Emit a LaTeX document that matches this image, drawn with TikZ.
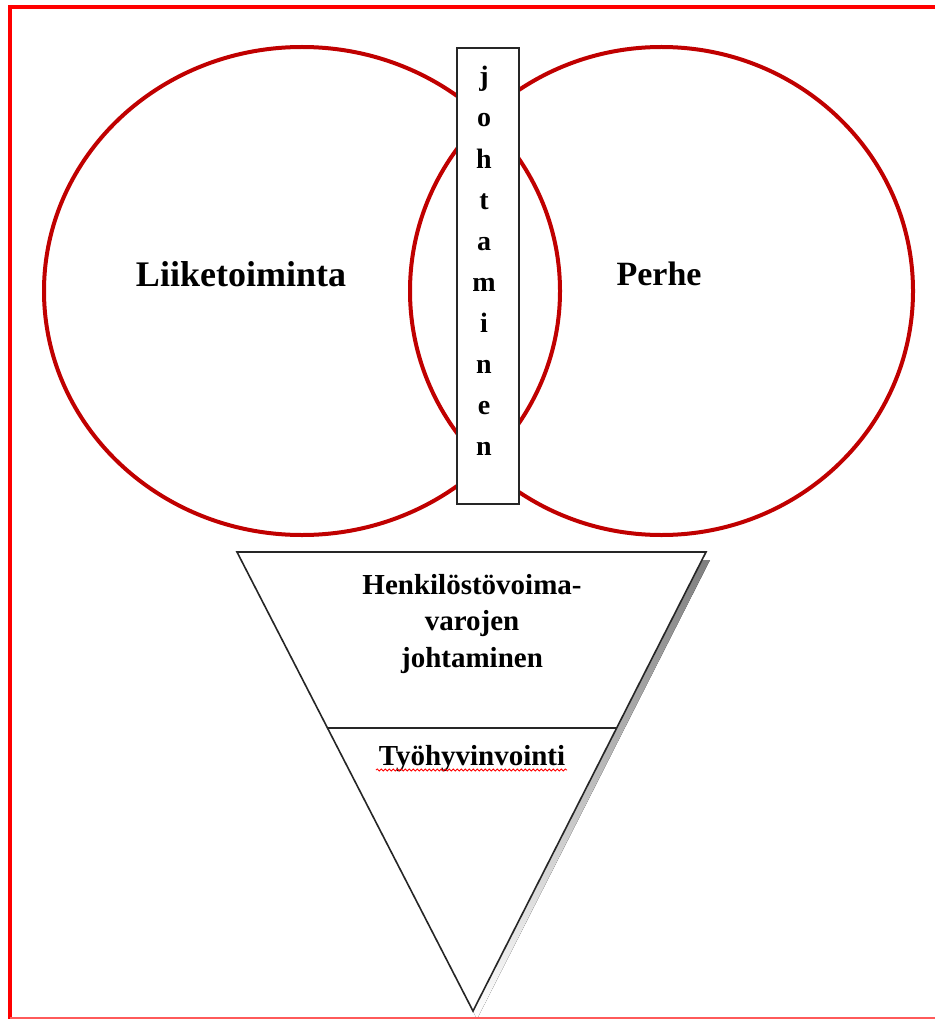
\documentclass[tikz,border=0pt]{standalone}
\usepackage{fontspec}
\setmainfont{Liberation Serif}
\usetikzlibrary{decorations.pathmorphing}
\definecolor{frame}{HTML}{FF0000}
\definecolor{frameb}{HTML}{FF5A5A}
\definecolor{ring}{HTML}{C00000}
\definecolor{shade}{HTML}{7A7A7A}
\tikzset{
  ringline/.style={draw=ring,line width=4pt},
  bigtxt/.style={font=\bfseries\fontsize{36}{42}\selectfont,inner sep=0pt,anchor=base},
  perhetxt/.style={font=\bfseries\fontsize{34}{40}\selectfont,inner sep=0pt,anchor=base},
  midtxt/.style={font=\bfseries\fontsize{29}{35}\selectfont,inner sep=0pt,anchor=base},
  lettxt/.style={font=\bfseries\fontsize{28}{33}\selectfont,inner sep=0pt,anchor=base},
  outline/.style={draw=black!85,line width=1.6pt},
}
\begin{document}
\begin{tikzpicture}[x=1pt,y=-1pt]
\useasboundingbox (0,0) rectangle (935,1019);
\fill[white] (0,0) rectangle (935,1019);
% frame
\draw[frame,line width=3.5pt] (9.8,1019) -- (9.8,7) -- (935,7);
\draw[frameb,line width=2pt] (9.8,1017.5) -- (935,1017.5);
% circles
\draw[ringline] (302,291) ellipse [x radius=258,y radius=244];
\draw[ringline] (661.5,291) ellipse [x radius=251.5,y radius=244];
% vertical box
\node[outline,fill=white,minimum width=62pt,minimum height=456pt,inner sep=0pt] (box) at (488,276) {};
\foreach \c [count=\i from 0] in {j,o,h,t,a,m,i,n,e,n}{
  \node[lettxt] (l\i) at (484,{86+41*\i}) {\c};
}
% labels
\node[bigtxt] (liike) at (241,286.5) {Liiketoiminta};
\node[perhetxt] (perhe) at (659,285.5) {Perhe};
% triangle with shadow
\fill[shade] (241,560) -- (710,560) -- (477,1019) -- cycle;
\draw[outline,fill=white,line join=miter] (237,552) coordinate (tl) -- (706,552) coordinate (tr) -- (473,1011) coordinate (ap) -- cycle;
\coordinate (dl) at (327.5,728);
\coordinate (dr) at (616.7,728);
\draw[outline] (dl) -- (dr);
\node[midtxt] (h1) at (472,594) {Henkilöstövoima-};
\node[midtxt] (h2) at (472,630) {varojen};
\node[midtxt] (h3) at (472,667) {johtaminen};
\node[midtxt] (tyo) at (472,765) {Työhyvinvointi};
\draw[red,line width=0.8pt,decorate,decoration={snake,amplitude=1.1pt,segment length=4pt}] (376,770) -- (567,770);
\draw[frameb,line width=2pt] (460,1017.5) -- (500,1017.5);
\end{tikzpicture}
\end{document}
